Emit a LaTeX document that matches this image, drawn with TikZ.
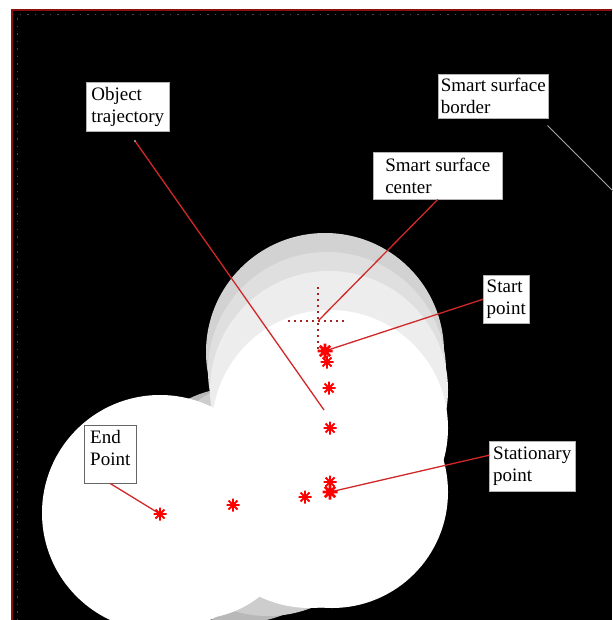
\documentclass[tikz,border=0pt]{standalone}
\usepackage{fontspec}
\setmainfont{Liberation Serif}
\definecolor{ptrred}{HTML}{D02828}
\definecolor{framered}{HTML}{8A1010}
\definecolor{dotcol}{HTML}{6A3A3A}
\definecolor{gA}{HTML}{D2D2D2}
\definecolor{gB}{HTML}{DFDFDF}
\definecolor{gC}{HTML}{EDEDED}
\definecolor{gD}{HTML}{B8B8B8}
\definecolor{gE}{HTML}{CDCDCD}
\begin{document}
\begin{tikzpicture}[x=1pt,y=-1pt,
  lbl/.style={fill=white, draw=gray!60, line width=0.5pt, align=left,
    inner sep=2pt, font=\fontsize{19}{22}\selectfont, anchor=north west},
  ptr/.style={draw=ptrred, line width=1.3pt},
  rstar/.pic={\draw[red, line width=1.9pt] (-6.5,0)--(6.5,0) (0,-6.5)--(0,6.5)
      (-4.5,-4.5)--(4.5,4.5) (-4.5,4.5)--(4.5,-4.5);},
  bstar/.pic={\draw[red, line width=2.6pt] (-7.5,0)--(7.5,0) (0,-7.5)--(0,7.5)
      (-5.2,-5.2)--(5.2,5.2) (-5.2,5.2)--(5.2,-5.2);}]
\useasboundingbox (0,0) rectangle (612,620);
\fill[white] (0,0) rectangle (612,620);
\fill[black] (12,10) rectangle (612,620);
% surface layers
\begin{scope}
\clip (12,10) rectangle (612,620);
\fill[gD] (240,505) circle[radius=118pt];
\fill[gE] (268,497) circle[radius=119pt];
\fill[gA] (325,352) circle[radius=119pt];
\fill[gB] (327,371) circle[radius=119pt];
\fill[gC] (329,390) circle[radius=119pt];
\fill[white] (330,428) circle[radius=118pt];
\fill[white] (332,492) circle[radius=116pt];
\fill[white] (310,490) circle[radius=118pt];
\fill[white] (195,515) circle[radius=104pt];
\fill[white] (160,513) circle[radius=118pt];
\end{scope}
% frame
\draw[framered, line width=1.6pt] (12,620) -- (12,10) -- (612,10);
\draw[dotcol, line width=1pt, dash pattern=on 1.5pt off 6pt] (17,620) -- (17,15) -- (612,15);
% surface center cross
\coordinate (sscenter) at (318,321);
\draw[dotcol!60!red, line width=1.2pt, dash pattern=on 1.5pt off 4.5pt] (318,287) -- (318,352);
\draw[dotcol!60!red, line width=1.2pt, dash pattern=on 1.5pt off 4.5pt] (288,321) -- (348,321);
% trajectory points
\coordinate (p1) at (325,351);
\coordinate (p2) at (327,362);
\coordinate (p3) at (329,388);
\coordinate (p4) at (330,428);
\coordinate (p5) at (330,482);
\coordinate (p6) at (330,492);
\coordinate (p7) at (305,497);
\coordinate (p8) at (233,505);
\coordinate (p9) at (160,514);
\coordinate (trajtop) at (135,141);
\coordinate (trajend) at (324,410);
\coordinate (borderend) at (614,192);
% labels
\node[lbl, minimum width=83pt, minimum height=49pt] (traj) at (86,82) {Object\\trajectory};
\node[lbl, minimum width=110pt, minimum height=44pt] (border) at (438,74) {Smart surface\\border};
\node[lbl, minimum width=129pt, minimum height=47pt] (ctr) at (373,152) {Smart surface\\center};
\node[lbl, minimum width=46pt, minimum height=48pt] (start) at (483,275) {Start\\point};
\node[lbl, minimum width=86pt, minimum height=50pt] (stat) at (489,441) {Stationary\\point};
\node[lbl, draw=gray!80!black, minimum width=52pt, minimum height=58pt, text depth=13pt] (endb) at (84,425) {End\\Point};
% pointers
\draw[ptr] (trajtop) -- (trajend);
\fill[gray!70] (trajtop) circle[radius=1.2pt];
\draw[ptr] (ctr.south) -- (sscenter);
\draw[ptr] (start.west) -- (p1);
\draw[ptr] ([yshift=11pt]stat.west) -- (p6);
\draw[ptr] (endb.south) -- (p9);
\draw[gray!70, line width=0.9pt] ([xshift=-1pt,yshift=-7pt]border.south east) -- (borderend);
% markers
\pic at (p1) {bstar};
\pic at (p2) {rstar};
\pic at (p3) {rstar};
\pic at (p4) {rstar};
\pic at (p5) {rstar};
\pic at (p6) {bstar};
\pic at (p7) {rstar};
\pic at (p8) {rstar};
\pic at (p9) {rstar};
\end{tikzpicture}
\end{document}
